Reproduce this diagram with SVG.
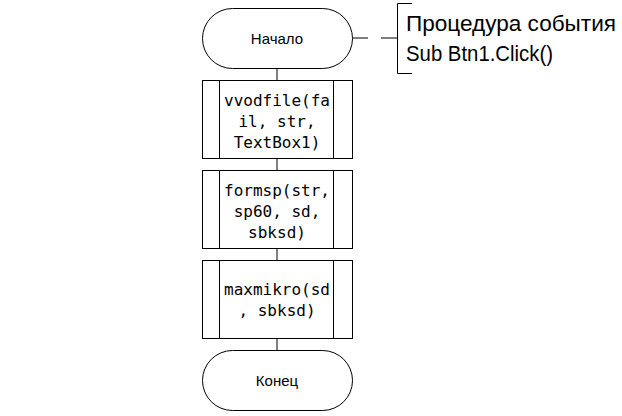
<svg xmlns="http://www.w3.org/2000/svg" width="622" height="416" viewBox="0 0 622 416">
<style>
.sh{fill:#fff;stroke:#000;stroke-width:1}
.ln{stroke:#000;stroke-width:1;fill:none}
.t{font-family:"Liberation Sans",Arial,sans-serif;font-size:15px;fill:#000;text-anchor:middle}
.c{font-family:"DejaVu Sans Mono","Liberation Mono",monospace;font-size:16px;fill:#000;text-anchor:middle}
.cm{font-family:"Liberation Sans",Arial,sans-serif;font-size:22px;fill:#000}
</style>
<rect width="622" height="416" fill="#fff"/>
<g id="connectors">
<line class="ln" x1="277" y1="68" x2="277" y2="80"/>
<line class="ln" x1="277" y1="158" x2="277" y2="170"/>
<line class="ln" x1="277" y1="248" x2="277" y2="260"/>
<line class="ln" x1="277" y1="338" x2="277" y2="350"/>
<line class="ln" x1="352" y1="38" x2="368" y2="38"/>
<line class="ln" x1="381" y1="38" x2="397" y2="38"/>
</g>
<g id="start">
<rect class="sh" x="202.5" y="8.5" width="150" height="60" rx="30" ry="30"/>
<text class="t" x="277" y="43.5">Начало</text>
</g>
<g id="comment">
<path class="ln" d="M412,3.5 H397.5 V73.5 H412"/>
<text class="cm" x="406" y="31" textLength="210" lengthAdjust="spacingAndGlyphs">Процедура события</text>
<text class="cm" x="406" y="61" textLength="147" lengthAdjust="spacingAndGlyphs">Sub Btn1.Click()</text>
</g>
<g id="p1">
<rect class="sh" x="202.5" y="80.5" width="150" height="78"/>
<line class="ln" x1="219.5" y1="80.5" x2="219.5" y2="158.5"/>
<line class="ln" x1="333.5" y1="80.5" x2="333.5" y2="158.5"/>
<text class="c" x="277" y="106">vvodfile(fa</text>
<text class="c" x="277" y="127">il, str,</text>
<text class="c" x="277" y="148">TextBox1)</text>
</g>
<g id="p2">
<rect class="sh" x="202.5" y="170.5" width="150" height="78"/>
<line class="ln" x1="219.5" y1="170.5" x2="219.5" y2="248.5"/>
<line class="ln" x1="333.5" y1="170.5" x2="333.5" y2="248.5"/>
<text class="c" x="277" y="196">formsp(str,</text>
<text class="c" x="277" y="217">sp60, sd,</text>
<text class="c" x="277" y="238">sbksd)</text>
</g>
<g id="p3">
<rect class="sh" x="202.5" y="260.5" width="150" height="78"/>
<line class="ln" x1="219.5" y1="260.5" x2="219.5" y2="338.5"/>
<line class="ln" x1="333.5" y1="260.5" x2="333.5" y2="338.5"/>
<text class="c" x="277" y="295">maxmikro(sd</text>
<text class="c" x="277" y="316">, sbksd)</text>
</g>
<g id="end">
<rect class="sh" x="202.5" y="350.5" width="150" height="60" rx="30" ry="30"/>
<text class="t" x="277" y="386">Конец</text>
</g>
</svg>
